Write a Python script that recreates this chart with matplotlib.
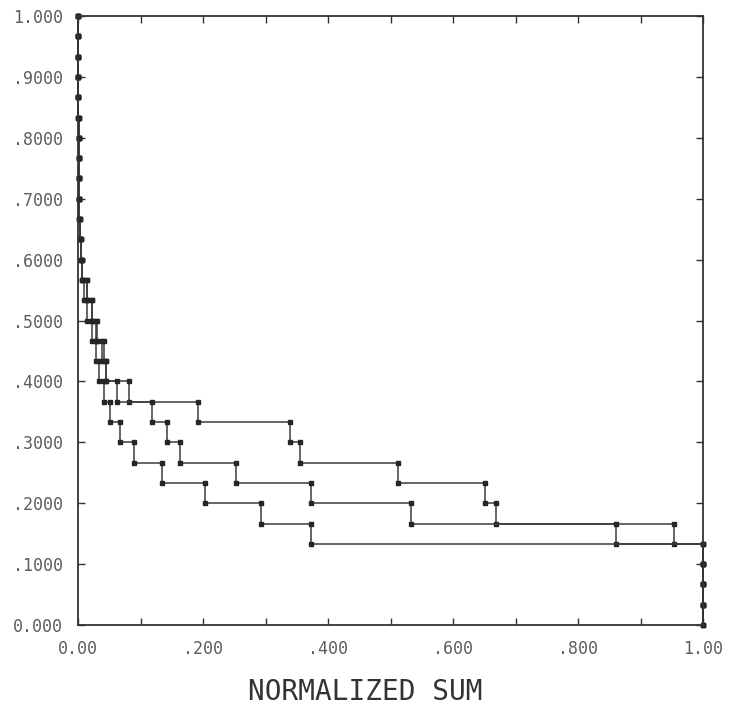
import numpy as np
import matplotlib
matplotlib.use('Agg')
import matplotlib.pyplot as plt
from matplotlib.ticker import MultipleLocator

# 30 items: y level k/30, x where each curve steps down from level k/30 (k = 30 .. 1)
n_items = 30
common_top = [0.0, 0.0, 0.0, 0.0, 0.0, 0.001, 0.001, 0.001, 0.002, 0.002, 0.003, 0.004, 0.006]

drops_a = common_top + [0.015, 0.023, 0.028, 0.041, 0.044, 0.081, 0.192, 0.339, 0.355,
                        0.512, 0.651, 0.669, 0.953, 1.0, 1.0, 1.0, 1.0]
drops_c = common_top + [0.015, 0.023, 0.031, 0.039, 0.044, 0.062, 0.118, 0.143, 0.163,
                        0.252, 0.373, 0.532, 0.861, 1.0, 1.0, 1.0, 1.0]
drops_d = common_top + [0.009, 0.015, 0.023, 0.028, 0.033, 0.041, 0.051, 0.067, 0.090,
                        0.134, 0.203, 0.292, 0.373, 1.0, 1.0, 1.0, 1.0]

x_ticks = [0.0, 0.2, 0.4, 0.6, 0.8, 1.0]
x_labels = ['0.00', '.200', '.400', '.600', '.800', '1.00']
y_ticks = [i / 10 for i in range(11)]
y_labels = ['0.000', '.1000', '.2000', '.3000', '.4000', '.5000',
            '.6000', '.7000', '.8000', '.9000', '1.000']


def staircase(drops):
    xs, ys = [0.0], [1.0]
    for i, d in enumerate(drops):
        k = n_items - i
        xs += [d, d]
        ys += [k / n_items, (k - 1) / n_items]
    return xs, ys


fig = plt.figure(figsize=(7.32, 7.10), dpi=100)
ax = fig.add_axes([78 / 732, 1 - 625 / 710, 625 / 732, 609 / 710])

for drops in (drops_a, drops_c, drops_d):
    xs, ys = staircase(drops)
    ax.plot(xs, ys, color='#3a3a3a', lw=1.1, marker='s', ms=2.2,
            mfc='#262626', mec='#262626', clip_on=False)

ax.set_xlim(0, 1)
ax.set_ylim(0, 1)

ax.set_xticks(x_ticks)
ax.set_xticklabels(x_labels)
ax.xaxis.set_minor_locator(MultipleLocator(0.1))
ax.set_yticks(y_ticks)
ax.set_yticklabels(y_labels)

for side in ax.spines.values():
    side.set_linewidth(1.3)
    side.set_color('#333333')

ax.tick_params(which='both', direction='in', length=5, width=1, color='#333333',
               top=True, right=True)
ax.tick_params(axis='x', which='major', pad=11)
ax.tick_params(axis='y', which='major', pad=11)
for lab in ax.get_xticklabels() + ax.get_yticklabels():
    lab.set_family('DejaVu Sans Mono')
    lab.set_fontsize(12)
    lab.set_color('#5e5e5e')

fig.text(365 / 732, 1 - 692 / 710, 'NORMALIZED SUM', family='DejaVu Sans Mono',
         fontsize=20, color='#333333', ha='center', va='center')

fig.savefig('out.png', dpi=100)
